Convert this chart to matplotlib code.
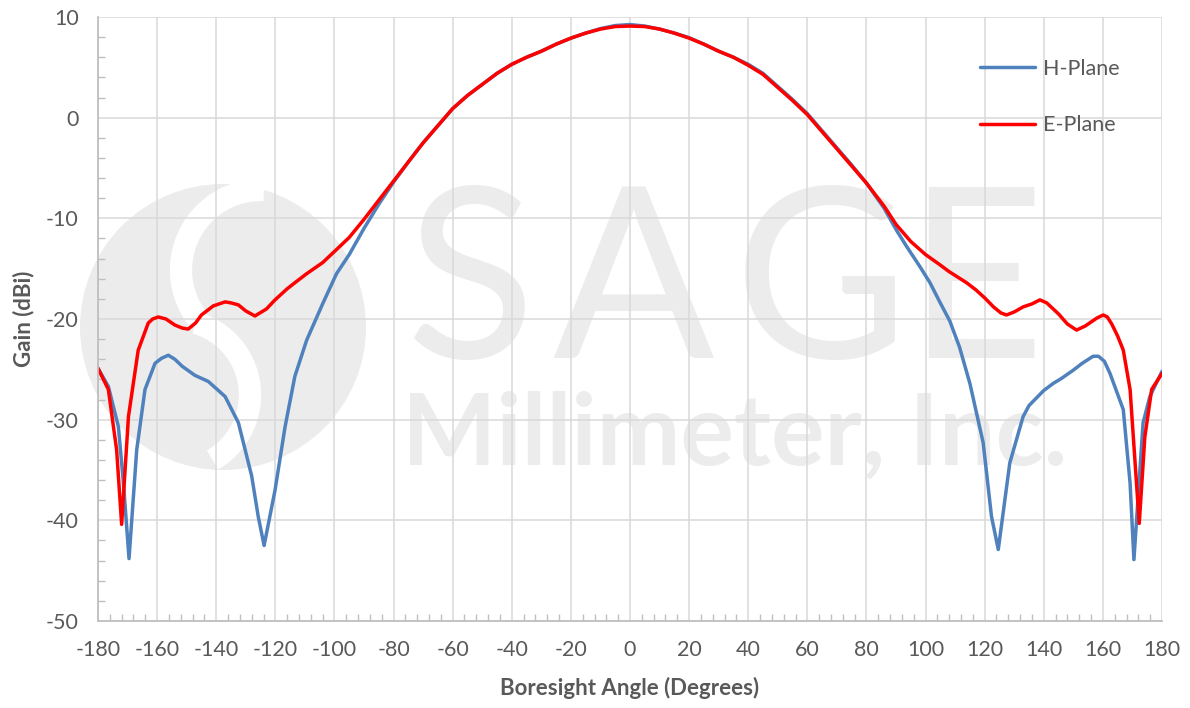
import matplotlib
matplotlib.use('Agg')
import matplotlib.pyplot as plt
from matplotlib.patches import Circle, Arc
from matplotlib.ticker import MultipleLocator

plt.rcParams['font.family'] = ['Lato', 'DejaVu Sans']
plt.rcParams['axes.unicode_minus'] = False

# H-Plane (blue)
h_angle = [-180, -176.5, -173.1, -171.4, -169.5, -166.9, -164.1, -160.7, -158.5, -156.2,
           -154, -151.5, -147.2, -142.7, -137, -132.5, -128, -125.8, -123.8, -120.1,
           -116.7, -113.4, -109.4, -104, -99.3, -95, -90, -85, -80, -75,
           -70, -65, -60, -55, -50, -45, -40, -35, -30, -25,
           -20, -15, -10, -5, 0, 5, 10, 15, 20, 25,
           30, 35, 40, 45, 50, 55, 60, 65, 70, 75,
           80, 86, 90.2, 93.6, 98.1, 101.5, 104.8, 108.2, 111.5, 115,
           119.5, 122.3, 124.6, 128.5, 133, 135, 140, 143.2, 146, 149.9,
           153, 156.7, 158.5, 160.5, 162.4, 166.9, 169.2, 170.5, 173.6, 175.9,
           180]
h_gain = [-24.9, -26.7, -30.7, -36.3, -43.8, -33.0, -27.0, -24.4, -23.9, -23.6,
          -24.0, -24.7, -25.6, -26.2, -27.7, -30.3, -35.6, -39.6, -42.5, -37.0,
          -30.7, -25.7, -22.1, -18.5, -15.5, -13.6, -11.0, -8.6, -6.4, -4.4,
          -2.5, -0.8, 0.9, 2.2, 3.3, 4.4, 5.3, 6.0, 6.6, 7.3,
          7.9, 8.4, 8.85, 9.15, 9.25, 9.1, 8.8, 8.4, 7.95, 7.3,
          6.6, 6.0, 5.3, 4.4, 3.1, 1.8, 0.4, -1.3, -3.0, -4.7,
          -6.5, -9.0, -11.2, -12.8, -14.8, -16.4, -18.3, -20.2, -22.8, -26.4,
          -32.3, -39.6, -42.9, -34.3, -29.7, -28.6, -27.1, -26.4, -25.9, -25.1,
          -24.4, -23.7, -23.7, -24.2, -25.4, -29.0, -36.3, -43.9, -30.3, -27.7,
          -25.2]

# E-Plane (red)
e_angle = [-180, -176.5, -173.7, -172, -169.7, -166.4, -163, -161.5, -159.6, -157,
           -154, -151.5, -149.5, -147, -145, -141, -137, -135, -132.5, -130,
           -126.9, -123, -120.1, -116, -113.4, -109.4, -104, -99.3, -95, -90,
           -85, -80, -75, -70, -65, -60, -55, -50, -45, -40,
           -35, -30, -25, -20, -15, -10, -5, 0, 5, 10,
           15, 20, 25, 30, 35, 40, 45, 50, 55, 60,
           65, 70, 75, 80, 86, 90, 95, 100, 104.8, 108,
           113.9, 117, 120, 123, 125.5, 127.4, 130, 133, 136, 138.7,
           141, 145, 148, 151.1, 154, 158, 160.1, 161.5, 163, 165,
           166.9, 169.2, 172.3, 174.2, 176.5, 180]
e_gain = [-24.9, -27.0, -33.0, -40.4, -29.7, -23.1, -20.4, -20.0, -19.8, -20.0,
          -20.6, -20.9, -21.0, -20.4, -19.6, -18.7, -18.3, -18.4, -18.6, -19.2,
          -19.7, -19.0, -18.1, -17.0, -16.4, -15.5, -14.4, -13.1, -11.9, -10.1,
          -8.2, -6.3, -4.4, -2.5, -0.8, 0.9, 2.2, 3.3, 4.4, 5.3,
          6.0, 6.6, 7.3, 7.9, 8.4, 8.8, 9.05, 9.1, 9.05, 8.8,
          8.4, 7.9, 7.3, 6.6, 6.0, 5.2, 4.3, 3.0, 1.7, 0.3,
          -1.4, -3.1, -4.8, -6.5, -8.8, -10.6, -12.3, -13.6, -14.6, -15.3,
          -16.4, -17.1, -17.9, -18.8, -19.4, -19.6, -19.3, -18.8, -18.5, -18.1,
          -18.4, -19.5, -20.5, -21.1, -20.7, -19.9, -19.6, -19.8, -20.5, -21.7,
          -23.1, -27.0, -40.3, -31.7, -27.0, -25.4]

grey_txt = '#595959'
wm = '#ececec'

fig = plt.figure(figsize=(11.9, 7.08), dpi=100)

# watermark drawn in pixel coordinates behind the plot
bg = fig.add_axes([0, 0, 1, 1], zorder=0)
bg.set_xlim(0, 1190)
bg.set_ylim(708, 0)
bg.axis('off')
bg.add_patch(Circle((223, 327), 143, color=wm, lw=0))
bg.add_patch(Arc((261, 270), 160, 160, theta1=142, theta2=272, color='white', lw=16))
bg.add_patch(Arc((175, 395), 150, 150, theta1=-74, theta2=60, color='white', lw=16))
for ch, xc in zip('SAGE', [470, 633, 821, 975]):
    bg.text(xc, 358, ch, fontsize=172, color=wm, ha='center', va='baseline')
bg.text(402, 465, 'Millimeter, Inc.', fontsize=72, fontweight='bold', color=wm,
        ha='left', va='baseline')

ax = fig.add_axes([98 / 1190, 1 - 621 / 708, 1064 / 1190, 604 / 708], zorder=1)
ax.set_facecolor('none')

ax.plot(h_angle, h_gain, color='#4f81bd', lw=2.5, label='H-Plane',
        solid_joinstyle='round', solid_capstyle='round')
ax.plot(e_angle, e_gain, color='#ff0000', lw=2.5, label='E-Plane',
        solid_joinstyle='round', solid_capstyle='round')

ax.set_xlim(-180, 180)
ax.set_ylim(-50, 10)
ax.xaxis.set_major_locator(MultipleLocator(20))
ax.xaxis.set_minor_locator(MultipleLocator(4))
ax.yaxis.set_major_locator(MultipleLocator(10))
ax.yaxis.set_minor_locator(MultipleLocator(2))

ax.grid(True, which='major', color='#d9d9d9', lw=1.1)
ax.set_axisbelow(True)
for s in ['top', 'right']:
    ax.spines[s].set_visible(False)
for s in ['left', 'bottom']:
    ax.spines[s].set_color('#bfbfbf')
    ax.spines[s].set_linewidth(1.3)

ax.tick_params(which='major', length=0, labelsize=15.5, labelcolor=grey_txt, pad=14)
ax.tick_params(which='minor', direction='in', length=5, width=1, color='#bfbfbf')

ax.set_xlabel('Boresight Angle (Degrees)', fontsize=16, fontweight='bold', color=grey_txt, labelpad=12)
ax.set_ylabel('Gain (dBi)', fontsize=16, fontweight='bold', color=grey_txt, labelpad=8)

leg = ax.legend(loc='upper left', bbox_to_anchor=(0.811, 0.963), frameon=False,
                fontsize=15.5, handlelength=2.55, handletextpad=0.35, labelspacing=1.7,
                labelcolor=grey_txt)

fig.savefig('out.png', dpi=100)
